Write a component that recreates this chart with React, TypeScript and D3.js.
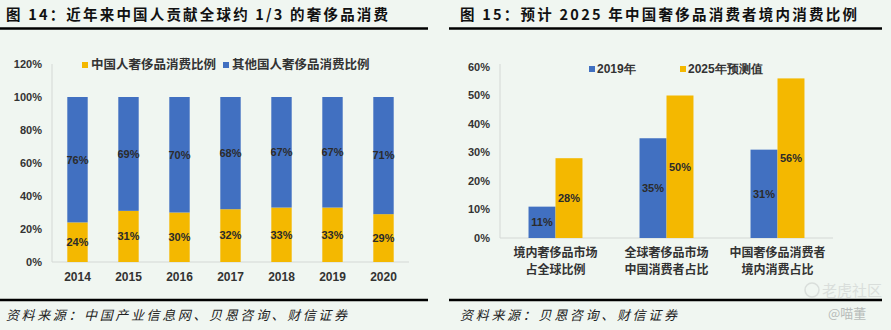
import React from "react";
import * as d3 from "d3";

const years = ["2014", "2015", "2016", "2017", "2018", "2019", "2020"];
const chinaShare = [24, 31, 30, 32, 33, 33, 29];
const otherShare = [76, 69, 70, 68, 67, 67, 71];
const leftTicks = [0, 20, 40, 60, 80, 100, 120];

const groups = [
  ["境内奢侈品市场", "占全球比例"],
  ["全球奢侈品市场", "中国消费者占比"],
  ["中国奢侈品消费者", "境内消费占比"],
];
const v2019 = [11, 35, 31];
const v2025 = [28, 50, 56];
const rightTicks = [0, 10, 20, 30, 40, 50, 60];

const YELLOW = "#f4b800";
const BLUE = "#4170c1";
const BG = "#f0f6f1";
const CJK = "'Noto Sans CJK SC', sans-serif";
const NUM = "'Liberation Sans', Arial, sans-serif";

export default function App() {
  // Left chart scales
  const yL = d3.scaleLinear().domain([0, 120]).range([262, 64]);
  const xL = d3.scaleBand().domain(years).range([52, 409]).paddingInner(0.6).paddingOuter(0.3);

  // Right chart scales
  const yR = d3.scaleLinear().domain([0, 60]).range([238, 67]);
  const gKeys = groups.map((g) => g.join(""));
  const xR = d3.scaleBand().domain(gKeys).range([500, 833]).paddingInner(0.514).paddingOuter(0.257);
  const xR1 = d3.scaleBand().domain(["a", "b"]).range([0, xR.bandwidth()]).padding(0);

  return (
    <svg width={891} height={330} style={{ position: "absolute", left: 0, top: 0, background: BG }}>
      <rect x={0} y={0} width={891} height={330} fill={BG} />

      {/* Titles */}
      <text x={6} y={20} fontFamily={CJK} fontWeight="bold" fontSize={14.5} fill="#111"
        textLength={382} lengthAdjust="spacing">图 14：近年来中国人贡献全球约 1/3 的奢侈品消费</text>
      <line x1={0} x2={428} y1={28.5} y2={28.5} stroke="#000" strokeWidth={2.5} />
      <text x={460} y={20} fontFamily={CJK} fontWeight="bold" fontSize={14.5} fill="#111"
        textLength={397} lengthAdjust="spacing">图 15：预计 2025 年中国奢侈品消费者境内消费比例</text>
      <line x1={449} x2={882} y1={28.5} y2={28.5} stroke="#000" strokeWidth={2.5} />

      {/* Left chart */}
      <g>
        <line x1={52} x2={52} y1={64} y2={262} stroke="#d4d8d5" strokeWidth={1} />
        <line x1={52} x2={409} y1={262} y2={262} stroke="#d4d8d5" strokeWidth={1} />
        {leftTicks.map((t) => (
          <text key={t} x={42} y={yL(t)} dy="0.35em" textAnchor="end" fontFamily={NUM}
            fontWeight="bold" fontSize={11} fill="#333">{t}%</text>
        ))}
        {years.map((yr, i) => {
          const x = xL(yr)!;
          const w = xL.bandwidth();
          return (
            <g key={yr}>
              <rect x={x} y={yL(chinaShare[i])} width={w} height={yL(0) - yL(chinaShare[i])} fill={YELLOW} />
              <rect x={x} y={yL(100)} width={w} height={yL(chinaShare[i]) - yL(100)} fill={BLUE} />
              <text x={x + w / 2} y={yL(chinaShare[i] / 2)} dy="0.35em" textAnchor="middle"
                fontFamily={NUM} fontWeight="bold" fontSize={11} fill="#2b2b2b">{chinaShare[i]}%</text>
              <text x={x + w / 2} y={yL(chinaShare[i] + otherShare[i] / 2)} dy="0.35em" textAnchor="middle"
                fontFamily={NUM} fontWeight="bold" fontSize={11} fill="#2b2b2b">{otherShare[i]}%</text>
              <text x={x + w / 2} y={277} dy="0.35em" textAnchor="middle" fontFamily={NUM}
                fontWeight="bold" fontSize={12} fill="#333">{yr}</text>
            </g>
          );
        })}
        {/* Legend */}
        <rect x={82} y={62} width={6} height={6} fill={YELLOW} />
        <text x={91} y={65} dy="0.35em" fontFamily={CJK} fontWeight="bold" fontSize={12.5} fill="#333">中国人奢侈品消费比例</text>
        <rect x={223} y={62} width={6} height={6} fill={BLUE} />
        <text x={232} y={65} dy="0.35em" fontFamily={CJK} fontWeight="bold" fontSize={12.5} fill="#333">其他国人奢侈品消费比例</text>
      </g>

      {/* Right chart */}
      <g>
        <line x1={500} x2={500} y1={64} y2={238} stroke="#d4d8d5" strokeWidth={1} />
        <line x1={500} x2={833} y1={238} y2={238} stroke="#d4d8d5" strokeWidth={1} />
        {rightTicks.map((t) => (
          <text key={t} x={490} y={yR(t)} dy="0.35em" textAnchor="end" fontFamily={NUM}
            fontWeight="bold" fontSize={11} fill="#333">{t}%</text>
        ))}
        {gKeys.map((k, i) => {
          const gx = xR(k)!;
          const bw = xR1.bandwidth();
          const xa = gx + xR1("a")!;
          const xb = gx + xR1("b")!;
          return (
            <g key={k}>
              <rect x={xa} y={yR(v2019[i])} width={bw} height={yR(0) - yR(v2019[i])} fill={BLUE} />
              <rect x={xb} y={yR(v2025[i])} width={bw} height={yR(0) - yR(v2025[i])} fill={YELLOW} />
              <text x={xa + bw / 2} y={yR(v2019[i] / 2)} dy="0.35em" textAnchor="middle" fontFamily={NUM}
                fontWeight="bold" fontSize={11} fill="#2b2b2b">{v2019[i]}%</text>
              <text x={xb + bw / 2} y={yR(v2025[i] / 2)} dy="0.35em" textAnchor="middle" fontFamily={NUM}
                fontWeight="bold" fontSize={11} fill="#2b2b2b">{v2025[i]}%</text>
              <text x={gx + xR.bandwidth() / 2} y={253} dy="0.35em" textAnchor="middle" fontFamily={CJK}
                fontWeight="bold" fontSize={12} fill="#333">{groups[i][0]}</text>
              <text x={gx + xR.bandwidth() / 2} y={270} dy="0.35em" textAnchor="middle" fontFamily={CJK}
                fontWeight="bold" fontSize={12} fill="#333">{groups[i][1]}</text>
            </g>
          );
        })}
        {/* Legend */}
        <rect x={589} y={66} width={6} height={6} fill={BLUE} />
        <text x={597} y={69} dy="0.35em" fontFamily={NUM} fontWeight="bold" fontSize={12} fill="#333">2019年</text>
        <rect x={680} y={66} width={6} height={6} fill={YELLOW} />
        <text x={688} y={69} dy="0.35em" fontFamily={NUM} fontWeight="bold" fontSize={12} fill="#333">2025年预测值</text>
      </g>

      {/* Watermark */}
      <g opacity={0.55}>
        <circle cx={812} cy={290} r={7} fill="none" stroke="#c8ccca" strokeWidth={1.5} />
        <text x={822} y={291} dy="0.35em" fontFamily={CJK} fontSize={15} fill="#c8ccca">老虎社区</text>
      </g>

      {/* Bottom rules and sources */}
      <line x1={0} x2={428} y1={300} y2={300} stroke="#000" strokeWidth={2.5} />
      <line x1={449} x2={882} y1={300} y2={300} stroke="#000" strokeWidth={2.5} />
      <text x={6} y={315} dy="0.35em" fontFamily={CJK} fontStyle="italic" fontSize={13} fill="#222"
        textLength={341} lengthAdjust="spacing">资料来源：中国产业信息网、贝恩咨询、财信证券</text>
      <text x={460} y={315} dy="0.35em" fontFamily={CJK} fontStyle="italic" fontSize={13} fill="#222"
        textLength={217} lengthAdjust="spacing">资料来源：贝恩咨询、财信证券</text>
      <text x={828} y={313} dy="0.35em" fontFamily={CJK} fontSize={13} fill="#b8bcba">@喵董</text>
    </svg>
  );
}
